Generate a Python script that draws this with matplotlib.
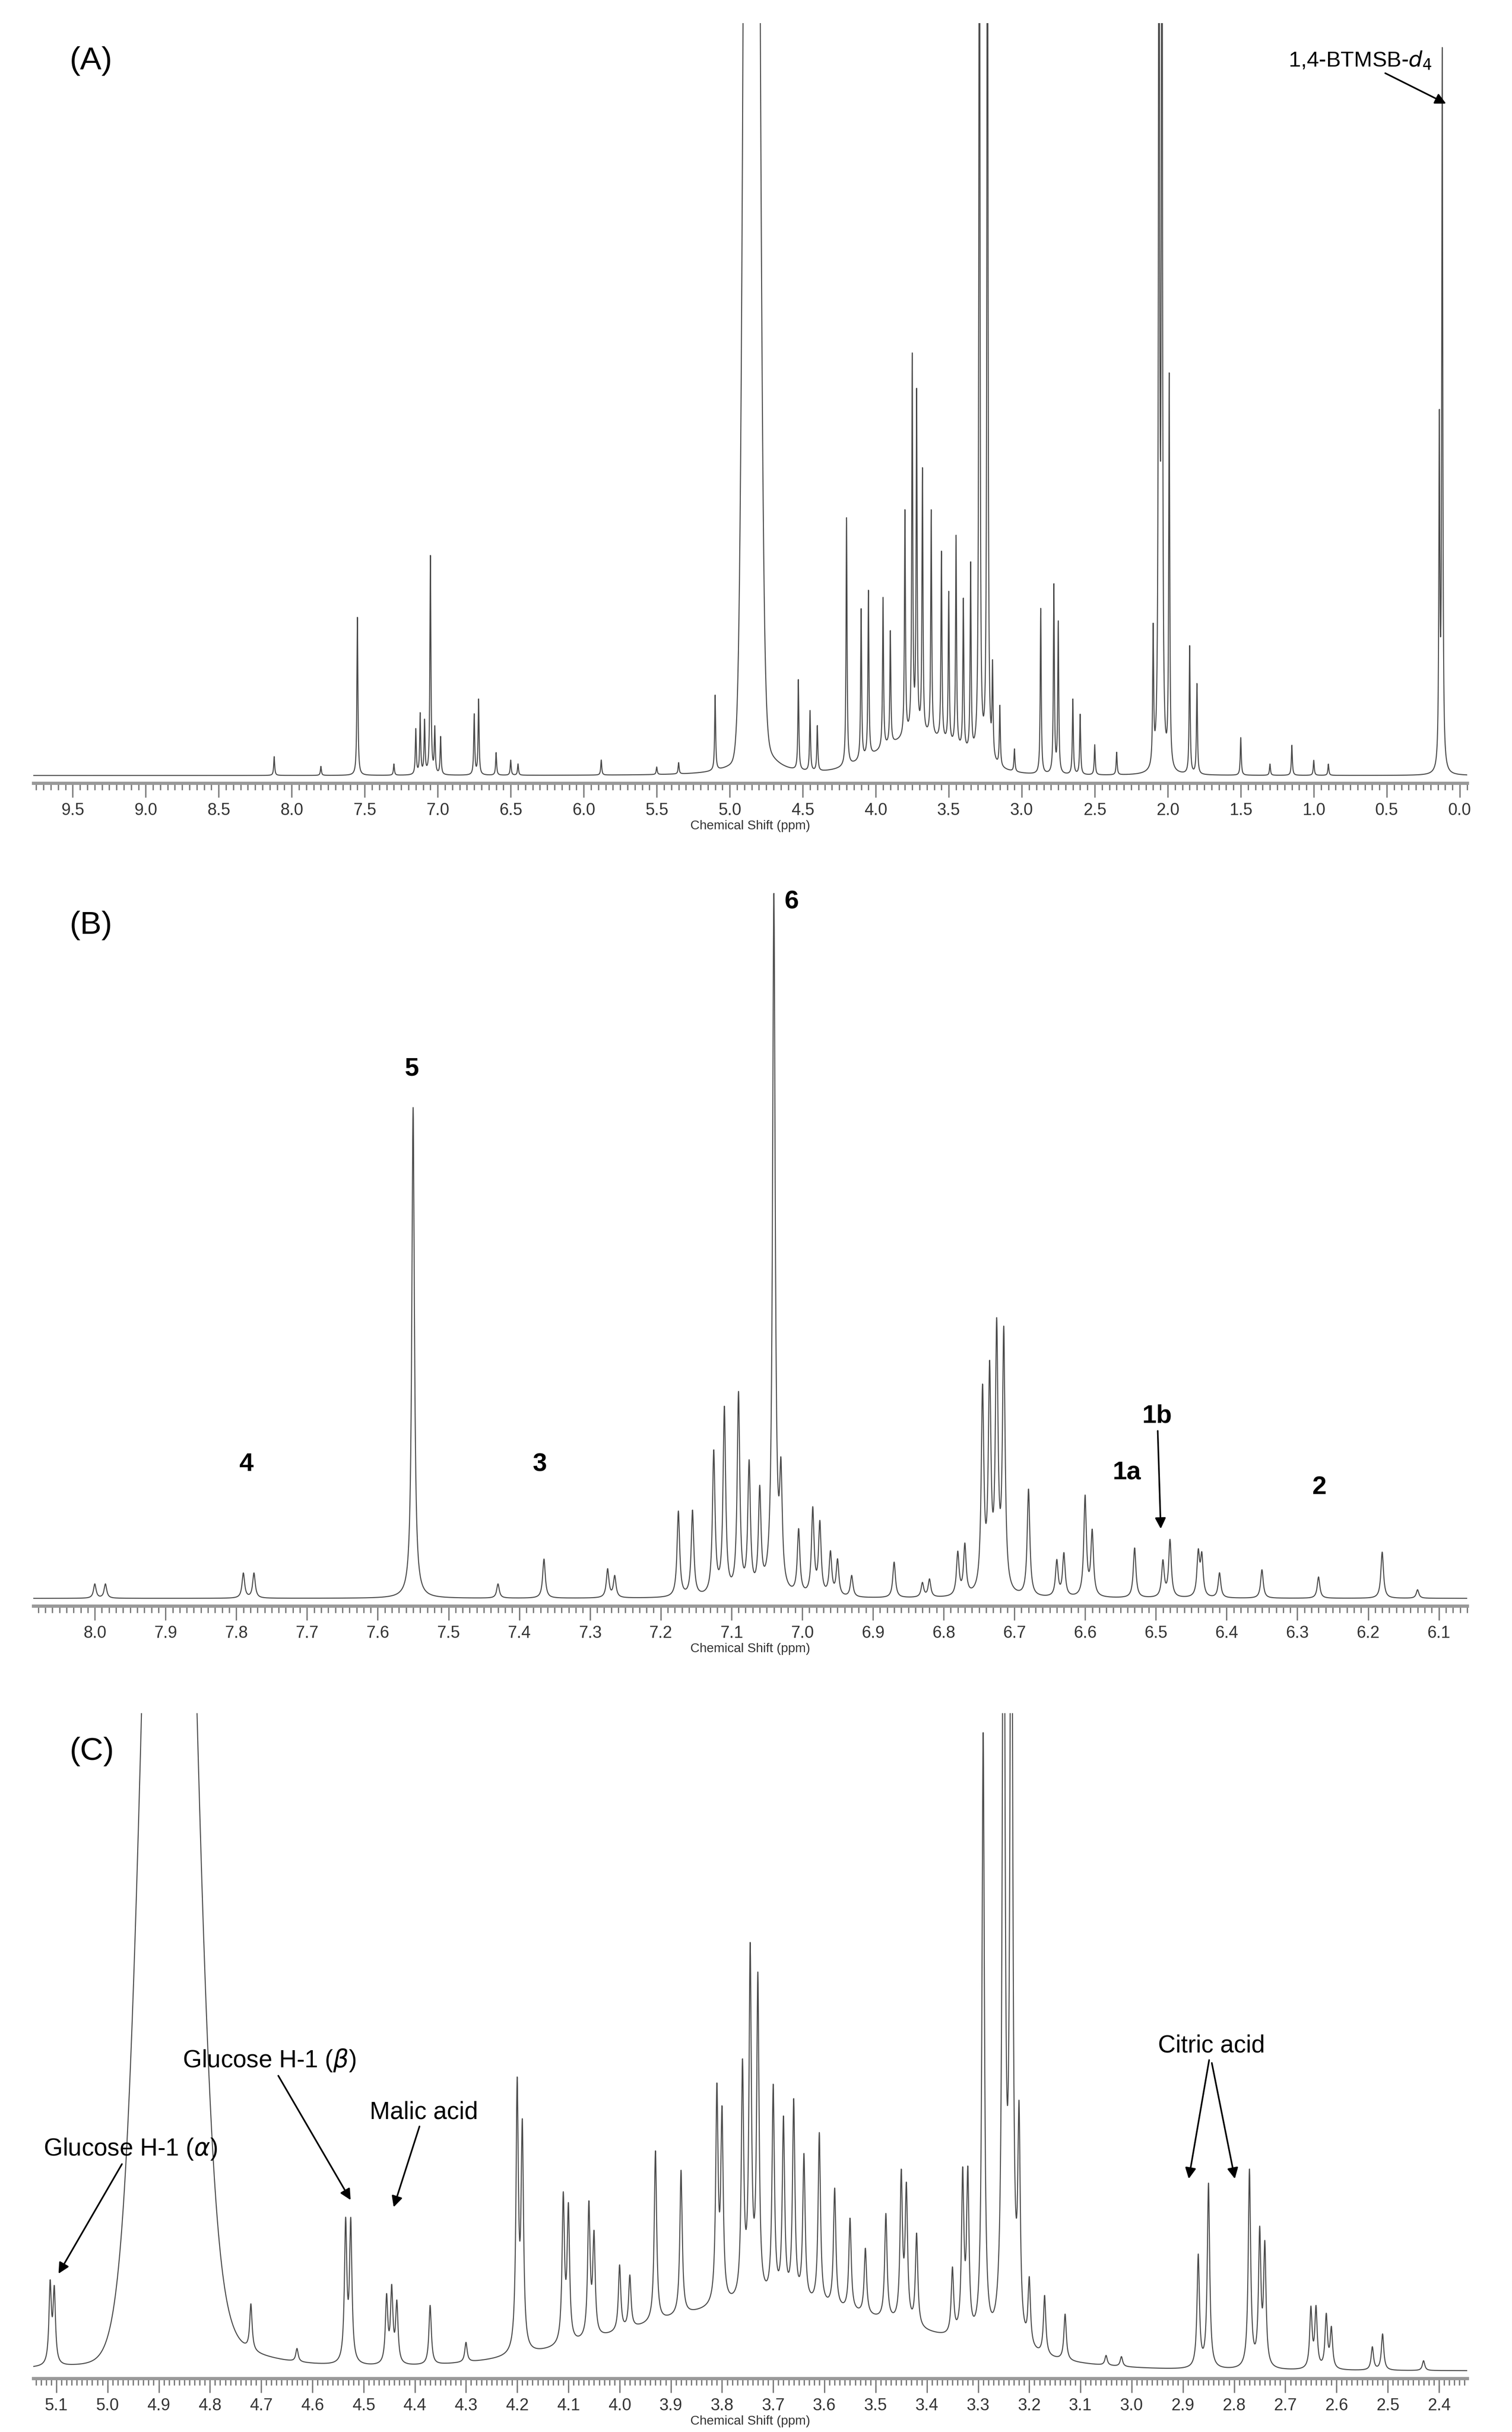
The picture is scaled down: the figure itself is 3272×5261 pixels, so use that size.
import numpy as np
import matplotlib
matplotlib.use("Agg")
import matplotlib.pyplot as plt
from matplotlib.ticker import MultipleLocator, FormatStrFormatter

plt.rcParams['font.family'] = ['Liberation Sans', 'DejaVu Sans']

# ---- data: peak lists (ppm, relative height) ----
a_ppm = [8.12, 7.80, 7.55, 7.30, 7.15, 7.12, 7.09, 7.05, 7.02, 6.98, 6.75, 6.72, 6.60, 6.50, 6.45, 5.88, 5.50, 5.35, 5.10,
         4.53, 4.45, 4.40, 4.20, 4.10, 4.05, 3.95, 3.90, 3.80, 3.75, 3.72, 3.68, 3.62, 3.55, 3.50, 3.45, 3.40, 3.35,
         3.29, 3.235, 3.20, 3.15, 3.05, 2.87, 2.78, 2.75, 2.65, 2.60, 2.50, 2.35, 2.10, 2.06, 2.04, 1.99, 1.85, 1.80,
         1.50, 1.30, 1.15, 1.00, 0.90, 0.14, 0.12]
a_hgt = [0.025, 0.012, 0.21, 0.015, 0.06, 0.08, 0.07, 0.29, 0.06, 0.05, 0.08, 0.10, 0.03, 0.02, 0.015, 0.02, 0.01, 0.015, 0.10,
         0.12, 0.08, 0.06, 0.33, 0.20, 0.22, 0.20, 0.15, 0.30, 0.50, 0.45, 0.35, 0.30, 0.25, 0.20, 0.28, 0.20, 0.25,
         1.5, 1.5, 0.12, 0.08, 0.03, 0.22, 0.25, 0.20, 0.10, 0.08, 0.04, 0.03, 0.18, 1.5, 1.5, 0.52, 0.17, 0.12,
         0.05, 0.015, 0.04, 0.02, 0.015, 0.45, 0.95]

b_ppm = [8.00, 7.985, 7.79, 7.775, 7.55, 7.43, 7.365, 7.275, 7.265, 7.175, 7.155, 7.125, 7.11, 7.09, 7.075, 7.06, 7.04,
         7.03, 7.005, 6.985, 6.975, 6.96, 6.95, 6.93, 6.87, 6.83, 6.82, 6.78, 6.77, 6.745, 6.735, 6.725, 6.715, 6.68,
         6.64, 6.63, 6.60, 6.59, 6.53, 6.49, 6.48, 6.44, 6.435, 6.41, 6.35, 6.27, 6.18, 6.13]
b_hgt = [0.02, 0.02, 0.035, 0.035, 0.69, 0.02, 0.055, 0.04, 0.03, 0.12, 0.12, 0.20, 0.26, 0.28, 0.18, 0.14, 0.98,
         0.15, 0.09, 0.12, 0.10, 0.06, 0.05, 0.03, 0.05, 0.02, 0.025, 0.06, 0.07, 0.28, 0.30, 0.36, 0.36, 0.15,
         0.05, 0.06, 0.14, 0.09, 0.07, 0.05, 0.08, 0.06, 0.055, 0.035, 0.04, 0.03, 0.065, 0.012]

c_ppm = [5.112, 5.104, 4.72, 4.63, 4.535, 4.525, 4.455, 4.445, 4.435, 4.37, 4.30, 4.20, 4.19, 4.11, 4.10, 4.06, 4.05,
         4.00, 3.98, 3.93, 3.88, 3.81, 3.80, 3.76, 3.745, 3.73, 3.70, 3.68, 3.66, 3.64, 3.61, 3.58, 3.55, 3.52, 3.48,
         3.45, 3.44, 3.42, 3.35, 3.33, 3.32, 3.29, 3.25, 3.235, 3.22, 3.20, 3.17, 3.13, 3.05, 3.02, 2.87, 2.85, 2.77,
         2.75, 2.74, 2.65, 2.64, 2.62, 2.61, 2.53, 2.51, 2.43]
c_hgt = [0.12, 0.11, 0.07, 0.02, 0.21, 0.21, 0.10, 0.11, 0.09, 0.09, 0.03, 0.40, 0.33, 0.22, 0.20, 0.20, 0.15,
         0.10, 0.08, 0.26, 0.22, 0.32, 0.28, 0.35, 0.52, 0.48, 0.32, 0.27, 0.30, 0.22, 0.26, 0.18, 0.14, 0.10, 0.16,
         0.22, 0.20, 0.14, 0.10, 0.24, 0.24, 0.92, 1.5, 1.5, 0.32, 0.10, 0.09, 0.07, 0.015, 0.015, 0.17, 0.28, 0.30,
         0.20, 0.18, 0.09, 0.09, 0.08, 0.06, 0.035, 0.055, 0.015]

water_h = dict(A=4.0, B=0.0, C=2.2)
water_s = dict(A=0.035, B=0.05, C=0.042)
water_c = dict(A=4.85, B=4.88, C=4.88)
hump = dict(A=0.05, B=0.0, C=0.10)
widths = dict(A=0.004, B=0.0022, C=0.0028)


def spectrum(x, ppm, hgt, w, name):
    y = np.zeros_like(x)
    for p, h in zip(ppm, hgt):
        y += h * w**2 / ((x - p)**2 + w**2)
    wh = water_h[name]
    if wh > 0:
        y += wh * np.exp(-0.5 * ((x - water_c[name]) / water_s[name])**2)
        y += 0.06 * 0.1**2 / ((x - 4.82)**2 + 0.1**2)
    y += hump[name] * np.exp(-0.5 * ((x - 3.7) / 0.28)**2)
    return y


H = 1590.0
fig = plt.figure(figsize=(32.73, 52.61), dpi=100)
col = '#4a4a4a'

panels = [
    ('A', (9.77, -0.05), 512, 15, a_ppm, a_hgt, 0.5, 0.05),
    ('B', (8.087, 6.06), 1050, 580, b_ppm, b_hgt, 0.1, 0.01),
    ('C', (5.145, 2.345), 1555, 1120, c_ppm, c_hgt, 0.1, 0.01),
]
axes = {}
for name, xl, spine_y, top_y, ppm, hgt, maj, mnr in panels:
    ax = fig.add_axes([0.022, 1 - spine_y / H, 0.948, (spine_y - top_y) / H])
    x = np.linspace(xl[1], xl[0], 60000)
    y = spectrum(x, ppm, hgt, widths[name], name)
    ax.plot(x, y, color=col, lw=1.6)
    ax.set_xlim(xl)
    ax.set_ylim(-5 / (spine_y - top_y - 5), 1.0)
    for s in ['top', 'left', 'right']:
        ax.spines[s].set_visible(False)
    ax.spines['bottom'].set_color('#999999')
    ax.spines['bottom'].set_linewidth(5)
    ax.set_yticks([])
    ax.xaxis.set_major_locator(MultipleLocator(maj))
    ax.xaxis.set_minor_locator(MultipleLocator(mnr))
    ax.xaxis.set_major_formatter(FormatStrFormatter('%.1f'))
    ax.tick_params(axis='x', which='major', length=22, width=2, color='#777777', labelsize=26, pad=8, labelcolor='#333333')
    ax.tick_params(axis='x', which='minor', length=11, width=2, color='#777777')
    ax.set_xlabel('Chemical Shift (ppm)', fontsize=20, labelpad=2, color='#333333')
    fig.text(0.046, 1 - (top_y + 25) / H, '(%s)' % name, fontsize=50, va='center', ha='left')
    axes[name] = ax

arr = dict(arrowstyle='-|>', color='black', lw=2.5, mutation_scale=35)

axA = axes['A']
axA.annotate(r'1,4-BTMSB-$d_4$', xy=(0.086, 0.892), xytext=(0.683, 0.95), fontsize=34,
             ha='center', va='center', arrowprops=arr)

axB = axes['B']
for txt, px, py in [('5', 7.552, 0.744), ('6', 7.015, 0.979), ('4', 7.786, 0.188), ('3', 7.371, 0.188),
                    ('1a', 6.541, 0.177), ('2', 6.269, 0.156)]:
    axB.text(px, py, txt, fontsize=40, fontweight='bold', ha='center', va='center')
axB.annotate('1b', xy=(6.493, 0.096), xytext=(6.498, 0.256), fontsize=40, fontweight='bold',
             ha='center', va='center', arrowprops=arr)

axC = axes['C']
axC.annotate(r'Glucose H-1 ($\alpha$)', xy=(5.097, 0.146), xytext=(4.955, 0.337), fontsize=38,
             ha='center', va='center', arrowprops=arr)
axC.annotate(r'Glucose H-1 ($\beta$)', xy=(4.524, 0.258), xytext=(4.684, 0.472), fontsize=38,
             ha='center', va='center', arrowprops=arr)
axC.annotate('Malic acid', xy=(4.442, 0.247), xytext=(4.382, 0.393), fontsize=38,
             ha='center', va='center', arrowprops=arr)
axC.annotate('Citric acid', xy=(2.889, 0.29), xytext=(2.844, 0.494), fontsize=38,
             ha='center', va='center', arrowprops=arr)
axC.annotate('', xy=(2.798, 0.29), xytext=(2.844, 0.47), arrowprops=arr)

fig.savefig('out.png', dpi=100)
